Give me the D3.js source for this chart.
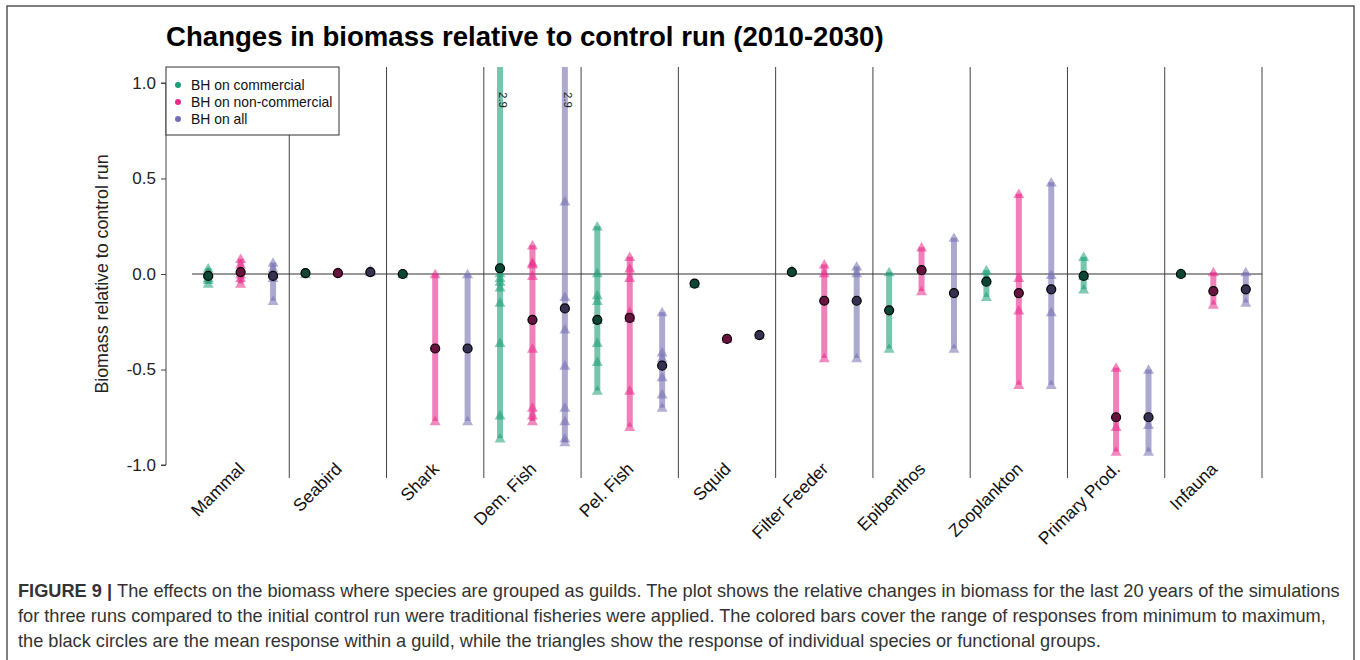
<!DOCTYPE html>
<html><head><meta charset="utf-8">
<script src="https://cdn.jsdelivr.net/npm/d3@7/dist/d3.min.js"></script>
<style>body{margin:0;background:#fff}svg{display:block}text{font-family:"Liberation Sans",Arial,sans-serif}</style>
</head><body><svg id="c" width="1360" height="660"></svg>
<script>
const guilds = ["Mammal","Seabird","Shark","Dem. Fish","Pel. Fish","Squid","Filter Feeder","Epibenthos","Zooplankton","Primary Prod.","Infauna"];
const seriesNames = ["BH on commercial","BH on non-commercial","BH on all"];
const seriesColors = ["#1b9e77","#e7298a","#7570b3"];
const yTicks = [-1.0,-0.5,0.0,0.5,1.0];

const meanCommercial    = [-0.01,0.005,0.0,0.03,-0.24,-0.05,0.01,-0.19,-0.04,-0.01,0.0];
const meanNonCommercial = [0.01,0.005,-0.39,-0.24,-0.23,-0.34,-0.14,0.02,-0.10,-0.75,-0.09];
const meanAll           = [-0.01,0.01,-0.39,-0.18,-0.48,-0.32,-0.14,-0.10,-0.08,-0.75,-0.08];

const speciesCommercial = [
  [0.03,0.01,0.0,-0.02,-0.03,-0.05],[0.0],[0.0],
  [2.9,0.005,-0.02,-0.04,-0.07,-0.15,-0.36,-0.74,-0.86],
  [0.25,0.005,-0.11,-0.14,-0.24,-0.36,-0.46,-0.61],
  [-0.05],[0.02],[0.01,-0.39],[0.02,-0.02,-0.12],[0.09,-0.01,-0.08],[0.005]];
const speciesNonCommercial = [
  [0.08,0.05,0.02,0.0,-0.02,-0.05],[0.01],[0.0,-0.77],
  [0.15,0.06,0.05,-0.01,-0.39,-0.70,-0.74,-0.77],
  [0.09,0.03,-0.02,-0.20,-0.23,-0.61,-0.80],
  [-0.34],[0.05,0.005,-0.44],[0.14,-0.09],[0.42,-0.02,-0.19,-0.58],[-0.49,-0.80,-0.93],[0.01,-0.16]];
const speciesAll = [
  [0.06,0.03,0.0,-0.02,-0.14],[0.02,0.01],[0.0,-0.77],
  [2.9,0.38,-0.12,-0.29,-0.48,-0.70,-0.77,-0.86,-0.88],
  [-0.20,-0.41,-0.44,-0.54,-0.63,-0.70],
  [-0.32],[0.04,0.005,-0.44],[0.19,-0.39],[0.48,-0.005,-0.20,-0.58],[-0.50,-0.79,-0.93],[0.01,-0.15]];

const means = [meanCommercial, meanNonCommercial, meanAll];
const species = [speciesCommercial, speciesNonCommercial, speciesAll];

const svg = d3.select("#c");
const plotL = 192, plotR = 1262, plotT = 67, plotB = 478;

// outer frame
svg.append("rect").attr("x",7).attr("y",6).attr("width",1347).attr("height",670)
  .attr("fill","none").attr("stroke","#555").attr("stroke-width",1.5);

const x = d3.scaleBand().domain(guilds).range([plotL, plotR]).padding(0);
const y = d3.scaleLinear().domain([-1,1]).range([465,83]);
const w = x.bandwidth();
const xs = (g,j) => x(g) + (2*j+1)/6*w;
const fmt = v => d3.format(".1f")(v).replace("\u2212","-");

svg.append("defs").append("clipPath").attr("id","clip")
  .append("rect").attr("x",plotL-20).attr("y",plotT).attr("width",plotR-plotL+40).attr("height",plotB-plotT);

// title
svg.append("text").attr("x",166).attr("y",46).attr("font-size",27.6).attr("font-weight","bold")
  .text("Changes in biomass relative to control run (2010-2030)");

// y axis
const yAxis = d3.axisLeft(y).tickValues(yTicks).tickFormat(fmt).tickSize(5).tickPadding(5);
const ga = svg.append("g").attr("transform","translate(166,0)").call(yAxis);
ga.select(".domain").attr("stroke","#444").attr("d","M-5,83H0V465H-5");
ga.selectAll(".tick line").attr("stroke","#444");
ga.selectAll(".tick text").attr("font-size",17).attr("fill","#222").attr("font-family","Liberation Sans, Arial, sans-serif");

svg.append("text").attr("transform","translate(108,274) rotate(-90)").attr("text-anchor","middle")
  .attr("font-size",17.8).attr("fill","#222").text("Biomass relative to control run");

// separators
svg.append("g").selectAll("line").data(guilds).join("line")
  .attr("x1",d=>x(d)+w).attr("x2",d=>x(d)+w).attr("y1",plotT).attr("y2",plotB)
  .attr("stroke","#444").attr("stroke-width",1);

// zero line
svg.append("line").attr("x1",plotL).attr("x2",plotR).attr("y1",y(0)).attr("y2",y(0))
  .attr("stroke","#333").attr("stroke-width",1);

const plot = svg.append("g").attr("clip-path","url(#clip)");
const tri = d3.symbol().type(d3.symbolTriangle).size(52);

for (let j=0;j<3;j++){
  const col = seriesColors[j];
  guilds.forEach((g,i)=>{
    const vals = species[j][i];
    const mx = d3.max(vals), mn = d3.min(vals);
    const cx = xs(g,j);
    if (mx>mn){
      plot.append("line").attr("x1",cx).attr("x2",cx).attr("y1",y(mx)).attr("y2",y(mn))
        .attr("stroke",col).attr("stroke-width",6).attr("stroke-opacity",0.6);
    }
    plot.selectAll(null).data(vals).join("path")
      .attr("d",tri).attr("transform",v=>`translate(${cx},${y(v)+1})`)
      .attr("fill",col).attr("fill-opacity",0.55);
    if (mx>1){
      svg.append("text").attr("transform",`translate(${cx-1},92) rotate(90)`)
        .attr("font-size",11.5).attr("fill","#222").text(fmt(mx));
    }
  });
}
for (let j=0;j<3;j++){
  const fillc = d3.interpolateRgb(seriesColors[j],"#000")(0.55);
  plot.selectAll(null).data(guilds).join("circle")
    .attr("cx",g=>xs(g,j)).attr("cy",(g,i)=>y(means[j][i])).attr("r",4.5)
    .attr("fill",fillc).attr("stroke","#000").attr("stroke-width",1.2);
}

// x labels
svg.append("g").selectAll("text").data(guilds).join("text")
  .attr("transform",g=>`translate(${x(g)+w/2+5},${470}) rotate(-45)`)
  .attr("text-anchor","end").attr("font-size",17.5).attr("fill","#111").text(g=>g);

// legend
const lg = svg.append("g");
lg.append("rect").attr("x",166).attr("y",67).attr("width",173).attr("height",68)
  .attr("fill","#fff").attr("stroke","#333").attr("stroke-width",1);
seriesNames.forEach((s,j)=>{
  lg.append("circle").attr("cx",178).attr("cy",85+j*17).attr("r",3).attr("fill",seriesColors[j]);
  lg.append("text").attr("x",191).attr("y",90+j*17).attr("font-size",13.9).attr("fill","#111").text(s);
});

// caption
const cap = svg.append("g").attr("font-size",18.2).attr("fill","#333");
const l1 = cap.append("text").attr("x",18).attr("y",597);
l1.append("tspan").attr("font-weight","bold").text("FIGURE 9 | ");
l1.append("tspan").text("The effects on the biomass where species are grouped as guilds. The plot shows the relative changes in biomass for the last 20 years of the simulations");
cap.append("text").attr("x",18).attr("y",622).text("for three runs compared to the initial control run were traditional fisheries were applied. The colored bars cover the range of responses from minimum to maximum,");
cap.append("text").attr("x",18).attr("y",647).text("the black circles are the mean response within a guild, while the triangles show the response of individual species or functional groups.");
</script></body></html>
